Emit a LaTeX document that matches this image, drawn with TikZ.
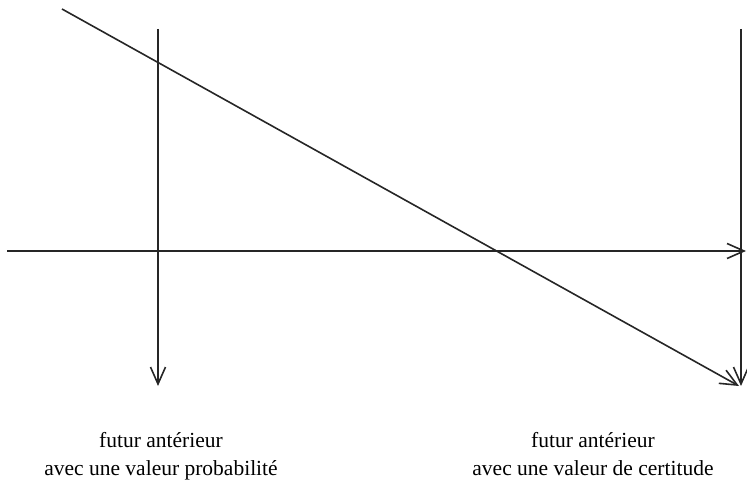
\documentclass[tikz,border=0pt]{standalone}
\usepackage{fontspec}
\setmainfont{Liberation Serif}
\usetikzlibrary{arrows.meta}
\begin{document}
\begin{tikzpicture}[x=1pt,y=-1pt,
  axis/.style={line width=1.6pt,draw=black!85,-{Straight Barb[length=17pt,width=15pt,line width=1.6pt]}},
  lbl/.style={font=\fontsize{21.5}{28}\selectfont,anchor=base,inner sep=0pt}]
\useasboundingbox (0,0) rectangle (747,484);
\coordinate (hs) at (7,251);
\coordinate (he) at (746,251);
\coordinate (ls) at (158,29);
\coordinate (le) at (158,386);
\coordinate (rs) at (741,29);
\coordinate (re) at (741,386);
\coordinate (ds) at (62,9);
\coordinate (de) at (739,386);
\draw[axis] (hs) -- (he);
\draw[axis] (ls) -- (le);
\draw[axis] (rs) -- (re);
\draw[axis] (ds) -- (de);
\node[lbl] (t1a) at (161,447) {futur antérieur};
\node[lbl] (t1b) at (161,475) {avec une valeur probabilité};
\node[lbl] (t2a) at (593,447) {futur antérieur};
\node[lbl] (t2b) at (593,475) {avec une valeur de certitude};
\end{tikzpicture}
\end{document}
